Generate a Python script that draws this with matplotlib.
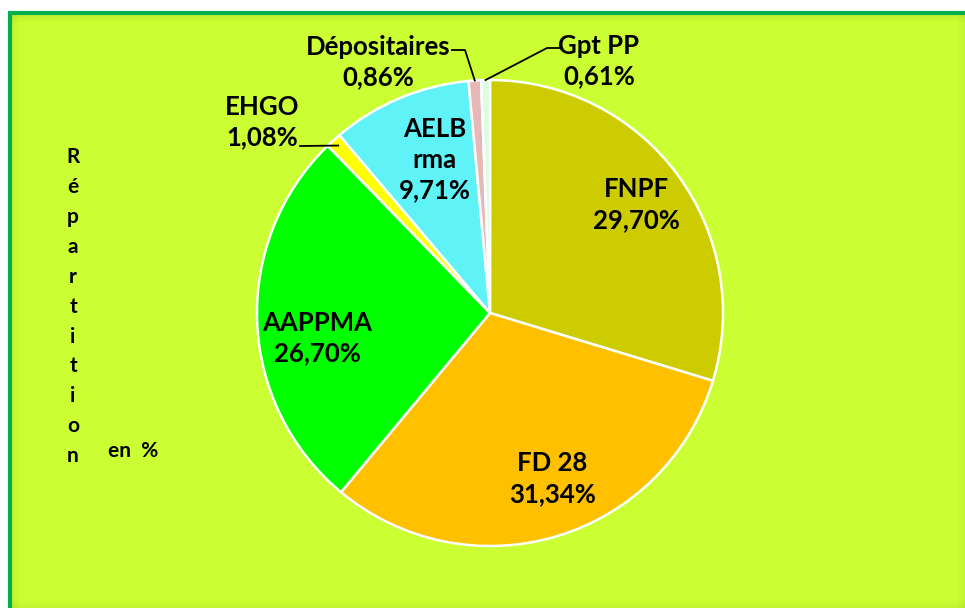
import numpy as np
import matplotlib.pyplot as plt
from matplotlib.patches import Rectangle

# Répartition (%) par organisme, ordre horaire depuis le haut
labels = ["FNPF", "FD 28", "AAPPMA", "EHGO", "AELB\nrma", "Dépositaires", "Gpt PP"]
values = [29.70, 31.34, 26.70, 1.08, 9.71, 0.86, 0.61]
colors = ["#cccc00", "#ffc000", "#00ff00", "#ffff00", "#5ff3f7", "#e6b8b7", "#ddfde0"]

W, H = 965, 608
CX, CY, R = 490, 313, 233

plt.rcParams["font.family"] = ["Lato", "DejaVu Sans"]
plt.rcParams["font.weight"] = "bold"

fig = plt.figure(figsize=(W / 100, H / 100), dpi=100, facecolor="white")

# fond du graphique (coordonnées pixels, y vers le bas)
bg = fig.add_axes([0, 0, 1, 1])
bg.set_xlim(0, W)
bg.set_ylim(H, 0)
bg.axis("off")
bg.add_patch(Rectangle((10, 13), W + 20, H + 20, facecolor="#ccff33",
                       edgecolor="#00b050", linewidth=3))
# ombre intérieure légère
for i, a in enumerate([0.06, 0.04, 0.025, 0.012]):
    bg.plot([W - 1 - i * 2] * 2, [13, H], color="#556b00", alpha=a, lw=2.2)
    bg.plot([10, W], [H - 1 - i * 2] * 2, color="#556b00", alpha=a, lw=2.2)
    bg.plot([12 + i * 2] * 2, [15, H], color="#556b00", alpha=a, lw=2.2)
    bg.plot([12, W], [15 + i * 2] * 2, color="#556b00", alpha=a, lw=2.2)

# titre vertical
bg.text(73, 147, "\n".join("Répartition"), ha="center", va="top",
        fontsize=15, linespacing=1.62, color="black")
bg.text(108, 451, "en  %", ha="left", va="center", fontsize=15, color="black")

# camembert
ax = fig.add_axes([(CX - R) / W, (H - CY - R) / H, 2 * R / W, 2 * R / H])
wedges, _ = ax.pie(values, colors=colors, startangle=90, counterclock=False,
                   wedgeprops=dict(edgecolor="white", linewidth=1.8))
ax.set_xlim(-1, 1)
ax.set_ylim(-1, 1)
ax.axis("off")


def to_data(px, py):
    return (px - CX) / R, (CY - py) / R


def mid(w, r, shift=0.0):
    t = np.deg2rad((w.theta1 + w.theta2) / 2 + shift)
    return r * np.cos(t), r * np.sin(t)


def pct(v):
    return f"{v:.2f}".replace(".", ",") + "%"


fs = 18.5
ls = 1.33
# étiquettes intérieures : (rayon relatif, décalage angulaire)
inner = {0: (0.78, 0.0), 1: (0.76, 4.0), 2: (0.75, 6.0), 4: (0.70, -3.0)}
for i, (r, sh) in inner.items():
    x, y = mid(wedges[i], r, sh)
    ax.text(x, y, f"{labels[i]}\n{pct(values[i])}", ha="center", va="center",
            fontsize=fs, linespacing=ls, color="black")

# étiquettes extérieures avec lignes de rappel
outer = {
    3: dict(text=(262, 122), elbow=[(300, 146)], r=0.97),
    5: dict(text=(378, 62), elbow=[(465, 50), (452, 50)], r=1.0),
    6: dict(text=(599, 61), elbow=[(547, 48), (560, 48)], r=1.0),
}
for i, o in outer.items():
    pts = [mid(wedges[i], o["r"])] + [to_data(*p) for p in o["elbow"]]
    xs, ys = zip(*pts)
    ax.plot(xs, ys, color="black", lw=1.3, clip_on=False)
    tx, ty = to_data(*o["text"])
    ax.text(tx, ty, f"{labels[i]}\n{pct(values[i])}", ha="center", va="center",
            fontsize=fs, linespacing=ls, color="black", clip_on=False)

fig.savefig("out.png", dpi=100, facecolor="white")
